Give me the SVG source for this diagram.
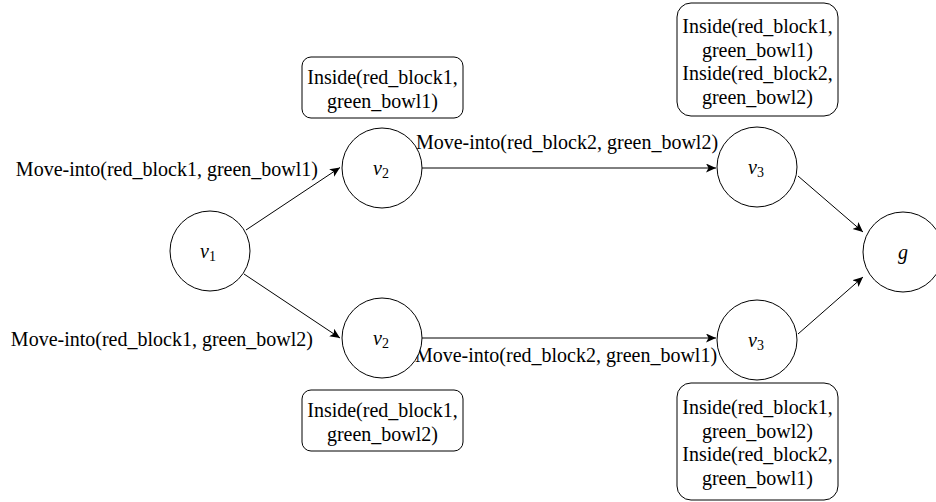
<svg xmlns="http://www.w3.org/2000/svg" width="936" height="502" viewBox="0 0 936 502">
<style>
.n{fill:#fff;stroke:#000;stroke-width:1}
.b{fill:#fff;stroke:#000;stroke-width:1}
.t{font-family:"Liberation Serif","Times New Roman",serif;font-size:20px;fill:#000}
.m{font-family:"Liberation Serif","Times New Roman",serif;font-size:20px;font-style:italic;fill:#000}
.s{font-size:14px;font-style:normal}
.e{fill:none;stroke:#000;stroke-width:1}
</style>
<defs>
<marker id="ah" markerUnits="userSpaceOnUse" markerWidth="12" markerHeight="10" refX="10" refY="4.5" orient="auto">
<path d="M0,0 L10,4.5 L0,9 L2.5,4.5 z" fill="#000"/>
</marker>
</defs>
<g id="connectors">
<path class="e" d="M246,230 L340,167.5" marker-end="url(#ah)"/>
<path class="e" d="M244,274 L340,338" marker-end="url(#ah)"/>
<path class="e" d="M422,168 L716,168" marker-end="url(#ah)"/>
<path class="e" d="M422,338 L716,338" marker-end="url(#ah)"/>
<path class="e" d="M798,176 L863,232" marker-end="url(#ah)"/>
<path class="e" d="M798,334 L863,277" marker-end="url(#ah)"/>
<text class="t" x="318" y="176" text-anchor="end">Move-into(red_block1, green_bowl1)</text>
<text class="t" x="313" y="346" text-anchor="end">Move-into(red_block1, green_bowl2)</text>
<text class="t" x="567" y="149" text-anchor="middle">Move-into(red_block2, green_bowl2)</text>
<text class="t" x="566" y="362" text-anchor="middle">Move-into(red_block2, green_bowl1)</text>
</g>
<g id="v1">
<circle class="n" cx="210" cy="251" r="40"/>
<text class="m" x="208" y="258" text-anchor="middle">v<tspan class="s" dy="3">1</tspan></text>
</g>
<g id="v2a">
<circle class="n" cx="382" cy="168" r="40"/>
<text class="m" x="381" y="175" text-anchor="middle">v<tspan class="s" dy="3">2</tspan></text>
</g>
<g id="v2b">
<circle class="n" cx="382" cy="338" r="40"/>
<text class="m" x="381" y="345" text-anchor="middle">v<tspan class="s" dy="3">2</tspan></text>
</g>
<g id="v3a">
<circle class="n" cx="757" cy="167" r="40"/>
<text class="m" x="756" y="174" text-anchor="middle">v<tspan class="s" dy="3">3</tspan></text>
</g>
<g id="v3b">
<circle class="n" cx="757" cy="340" r="40"/>
<text class="m" x="756" y="347" text-anchor="middle">v<tspan class="s" dy="3">3</tspan></text>
</g>
<g id="g">
<circle class="n" cx="903" cy="252" r="40"/>
<text class="m" x="903" y="259" text-anchor="middle">g</text>
</g>
<g id="box-v2a">
<rect class="b" x="302" y="57" width="161" height="61" rx="9"/>
<text class="t" x="382.5" y="84" text-anchor="middle">Inside(red_block1,</text>
<text class="t" x="382.5" y="108" text-anchor="middle">green_bowl1)</text>
</g>
<g id="box-v2b">
<rect class="b" x="302" y="390" width="161" height="61" rx="9"/>
<text class="t" x="382.5" y="417" text-anchor="middle">Inside(red_block1,</text>
<text class="t" x="382.5" y="441" text-anchor="middle">green_bowl2)</text>
</g>
<g id="box-v3a">
<rect class="b" x="677" y="3" width="161" height="113" rx="14"/>
<text class="t" x="757.5" y="33" text-anchor="middle">Inside(red_block1,</text>
<text class="t" x="757.5" y="57" text-anchor="middle">green_bowl1)</text>
<text class="t" x="757.5" y="80" text-anchor="middle">Inside(red_block2,</text>
<text class="t" x="757.5" y="104" text-anchor="middle">green_bowl2)</text>
</g>
<g id="box-v3b">
<rect class="b" x="677" y="383" width="161" height="117" rx="14"/>
<text class="t" x="757.5" y="414" text-anchor="middle">Inside(red_block1,</text>
<text class="t" x="757.5" y="438" text-anchor="middle">green_bowl2)</text>
<text class="t" x="757.5" y="461" text-anchor="middle">Inside(red_block2,</text>
<text class="t" x="757.5" y="485" text-anchor="middle">green_bowl1)</text>
</g>
</svg>
